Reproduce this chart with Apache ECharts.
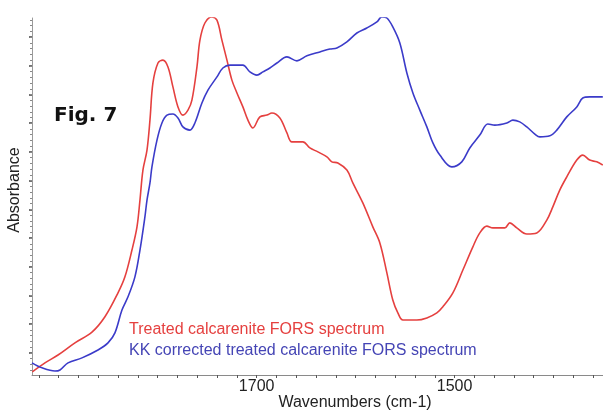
<!DOCTYPE html>
<html>
<head>
<meta charset="utf-8">
<script src="https://cdn.jsdelivr.net/npm/echarts@6/dist/echarts.min.js"></script>
<style>
  html, body { margin: 0; padding: 0; background: #fff; }
  #chart { width: 603px; height: 411px; }
</style>
</head>
<body>
<div id="chart"></div>
<script>
// Spectra: [wavenumber (cm-1), absorbance (arbitrary units)]
const treatedSpectrum = [
  [1926.7, 0.9], [1913.9, 3.4], [1900.7, 5.6], [1883.6, 9.0], [1866.4, 12.0],
  [1853.3, 16.3], [1840.1, 23.0], [1833.1, 27.5], [1826.0, 35.0], [1820.9, 41.5],
  [1817.9, 49.0], [1814.9, 57.4], [1810.8, 63.0], [1807.8, 71.4], [1804.8, 81.8],
  [1799.7, 87.4], [1794.7, 88.2], [1789.6, 86.3], [1784.6, 80.7], [1779.5, 75.1],
  [1774.5, 72.8], [1769.4, 74.2], [1765.4, 77.0], [1760.3, 86.3], [1757.3, 93.8],
  [1752.3, 98.6], [1745.2, 100.3], [1740.1, 99.4], [1735.1, 93.8], [1730.0, 88.2],
  [1725.0, 82.6], [1719.9, 79.0], [1713.9, 75.1], [1708.8, 71.4], [1703.8, 69.2],
  [1696.7, 72.3], [1689.6, 72.8], [1684.6, 73.4], [1676.5, 72.0], [1669.4, 67.8],
  [1664.4, 65.3], [1653.3, 65.3], [1646.2, 63.6], [1638.1, 62.5], [1629.0, 61.1],
  [1624.0, 59.7], [1617.9, 59.4], [1608.8, 57.4], [1602.8, 53.8], [1592.7, 48.2],
  [1582.6, 41.5], [1575.5, 37.0], [1568.4, 28.6], [1562.4, 21.0], [1557.3, 17.4],
  [1552.2, 15.4], [1538.1, 15.4], [1528.0, 16.0], [1517.9, 17.4], [1511.8, 19.1],
  [1501.7, 23.0], [1491.6, 29.4], [1481.5, 35.9], [1474.5, 39.8], [1467.4, 41.7],
  [1461.3, 41.2], [1449.2, 41.2], [1444.2, 42.6], [1437.1, 41.2], [1427.0, 39.5],
  [1416.9, 39.8], [1406.8, 43.4], [1400.7, 47.1], [1393.7, 51.8], [1386.6, 55.5],
  [1376.5, 60.2], [1370.4, 61.6], [1363.4, 60.2], [1356.3, 59.7], [1350.2, 58.8]
];

const kkSpectrum = [
  [1927.0, 3.4], [1916.9, 2.0], [1903.8, 1.1], [1898.7, 1.4], [1890.6, 3.4],
  [1876.5, 4.8], [1860.3, 7.0], [1850.2, 9.0], [1843.2, 11.8], [1836.1, 18.2],
  [1830.0, 21.9], [1823.0, 27.5], [1817.9, 35.0], [1812.9, 44.3], [1810.8, 49.0],
  [1807.8, 53.8], [1805.8, 58.3], [1800.7, 65.8], [1795.7, 70.6], [1790.6, 72.8],
  [1784.6, 73.1], [1779.5, 72.0], [1774.5, 69.5], [1767.4, 68.6], [1762.4, 70.6],
  [1755.3, 76.2], [1749.2, 79.8], [1740.1, 83.5], [1734.1, 86.0], [1727.0, 86.8],
  [1713.9, 86.8], [1706.8, 84.9], [1699.7, 84.0], [1693.7, 84.9], [1686.6, 86.0],
  [1679.5, 87.4], [1669.4, 89.1], [1659.3, 88.0], [1649.2, 89.4], [1636.1, 90.5],
  [1626.0, 91.3], [1618.9, 91.6], [1608.8, 93.3], [1598.7, 95.8], [1588.6, 97.2],
  [1578.5, 98.9], [1573.5, 100.3], [1568.4, 100.0], [1562.4, 97.5], [1555.3, 93.0],
  [1548.2, 84.6], [1542.1, 79.0], [1535.1, 74.2], [1528.0, 69.5], [1521.9, 65.0],
  [1514.9, 61.6], [1502.8, 58.3], [1492.7, 59.7], [1484.6, 63.6], [1474.5, 67.2],
  [1466.4, 70.3], [1459.3, 70.0], [1447.2, 70.6], [1441.1, 71.4], [1434.1, 70.9],
  [1427.0, 69.5], [1418.9, 67.5], [1413.8, 66.7], [1403.7, 67.0], [1396.7, 68.6],
  [1386.6, 72.3], [1376.5, 75.1], [1370.4, 77.6], [1363.4, 77.9], [1350.2, 77.9]
];

const seriesNames = [
  'Treated calcarenite FORS spectrum',
  'KK corrected treated calcarenite FORS spectrum'
];
const xLabels = [1700, 1500];
const figTitle = 'Fig. 7';
const xName = 'Wavenumbers (cm-1)';
const yName = 'Absorbance';

// Tick positions along both axes
const xTicks = [];
for (let w = 1360; w <= 1920; w += 20) xTicks.push(w);
const yMajor = [];
for (let k = 0; k < 12; k++) yMajor.push(6.2 + 8.04 * k);
const yMinor = [];
for (let v = 6.2 - 8.04 * 0.6; v <= 100; v += 8.04 / 5) yMinor.push(v);

const RED = '#e5403f';
const BLUE = '#3b3bc9';

const chart = echarts.init(document.getElementById('chart'), null, { renderer: 'canvas' });
chart.setOption({
  animation: false,
  backgroundColor: '#ffffff',
  grid: { left: 32, right: 0, top: 18, bottom: 36, containLabel: false },
  xAxis: {
    type: 'value',
    inverse: true,
    min: 1350,
    max: 1927,
    axisLine: { show: true, lineStyle: { color: '#8a8a8a', width: 1 } },
    axisTick: { show: true, customValues: xTicks, length: 3, lineStyle: { color: '#555' } },
    axisLabel: {
      show: true, customValues: xLabels, margin: 4,
      formatter: (v) => String(v),
      fontFamily: 'Liberation Sans', fontSize: 16, color: '#222'
    },
    splitLine: { show: false }
  },
  yAxis: [
    {
      type: 'value',
      min: 0,
      max: 100,
      axisLine: { show: true, lineStyle: { color: '#9a9a9a', width: 1 } },
      axisTick: { show: true, customValues: yMajor, length: 3, lineStyle: { color: '#444', width: 1.5 } },
      axisLabel: { show: false },
      splitLine: { show: false }
    },
    {
      type: 'value',
      position: 'left',
      min: 0,
      max: 100,
      axisLine: { show: false },
      axisTick: { show: true, customValues: yMinor, length: 2, lineStyle: { color: '#888' } },
      axisLabel: { show: false },
      splitLine: { show: false }
    }
  ],
  series: [
    {
      name: seriesNames[0],
      type: 'line',
      data: treatedSpectrum,
      showSymbol: false,
      smooth: 0.35,
      lineStyle: { color: RED, width: 1.6 },
      itemStyle: { color: RED }
    },
    {
      name: seriesNames[1],
      type: 'line',
      data: kkSpectrum,
      showSymbol: false,
      smooth: 0.35,
      lineStyle: { color: BLUE, width: 1.6 },
      itemStyle: { color: BLUE }
    }
  ],
  graphic: [
    {
      type: 'text', left: 54, top: 106,
      style: { text: figTitle, fontFamily: 'DejaVu Sans', fontWeight: 'bold', fontSize: 20, fill: '#111' }
    },
    {
      type: 'text', x: 129, y: 330,
      style: { text: seriesNames[0], fontFamily: 'Liberation Sans', fontSize: 16, fill: RED, verticalAlign: 'middle' }
    },
    {
      type: 'text', x: 129, y: 351,
      style: { text: seriesNames[1], fontFamily: 'Liberation Sans', fontSize: 16, fill: '#4545b5', verticalAlign: 'middle' }
    },
    {
      type: 'text', x: 355, y: 403,
      style: { text: xName, fontFamily: 'Liberation Sans', fontSize: 16, fill: '#222', align: 'center', verticalAlign: 'middle' }
    },
    {
      type: 'text', x: 15, y: 190, rotation: Math.PI / 2,
      style: { text: yName, fontFamily: 'Liberation Sans', fontSize: 16, fill: '#222', align: 'center', verticalAlign: 'middle' }
    }
  ]
});
</script>
</body>
</html>
